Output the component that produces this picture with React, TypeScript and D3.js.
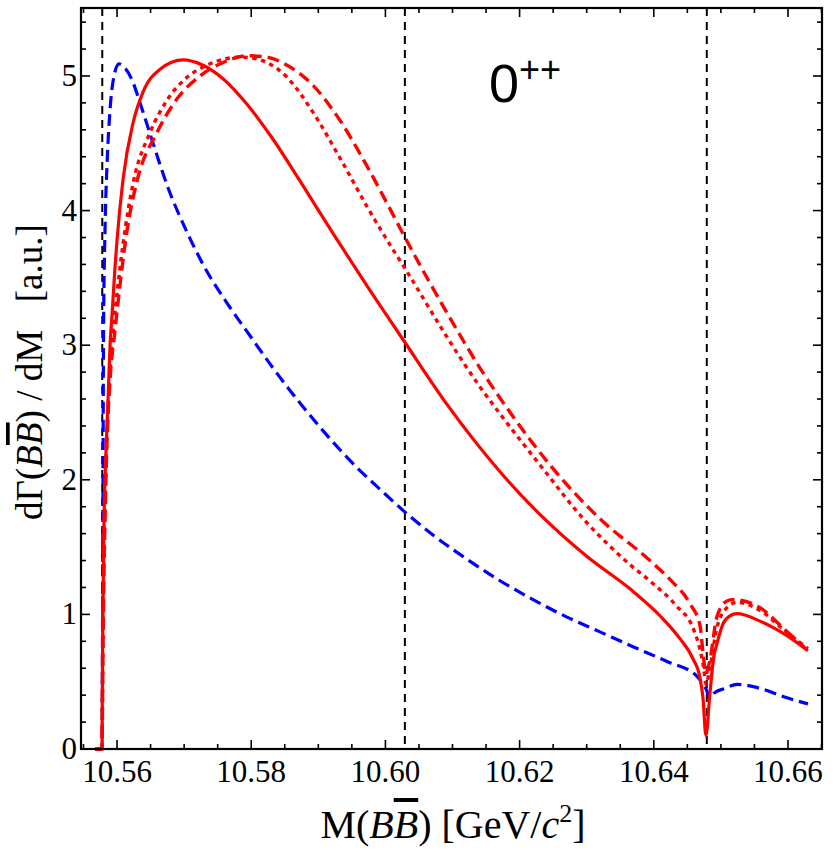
import React from "react";
import * as d3 from "d3";

// B Bbar invariant-mass spectrum for the 0++ channel
const thresholds = [10.5578, 10.6029, 10.6479];

const xTickValues = [10.56, 10.58, 10.6, 10.62, 10.64, 10.66];
const yTickValues = [0, 1, 2, 3, 4, 5];

// [mass GeV, dGamma/dM a.u.]
const blueDashed: [number, number][] = [
  [10.55672, 0], [10.55776, 0], [10.55784, 0.95], [10.55791, 2.0], [10.55799, 3.11],
  [10.55821, 3.86], [10.55851, 4.34], [10.55896, 4.75], [10.55955, 5.0], [10.5603, 5.09],
  [10.56119, 5.06], [10.56224, 4.97], [10.56343, 4.8], [10.56537, 4.5], [10.56745, 4.19],
  [10.57043, 3.84], [10.57282, 3.6], [10.57684, 3.28], [10.57982, 3.07], [10.58325, 2.83],
  [10.58727, 2.57], [10.5913, 2.33], [10.59577, 2.09], [10.59919, 1.93], [10.60292, 1.76],
  [10.60709, 1.59], [10.61216, 1.41], [10.61708, 1.25], [10.622, 1.11], [10.62706, 0.98],
  [10.63198, 0.87], [10.6369, 0.76], [10.64197, 0.65], [10.64644, 0.54], [10.64733, 0.48],
  [10.64793, 0.43], [10.64823, 0.38], [10.64911, 0.42], [10.65061, 0.45], [10.6524, 0.48],
  [10.65583, 0.45], [10.65925, 0.39], [10.66298, 0.335],
];

const redSolid: [number, number][] = [
  [10.55672, 0], [10.55776, 0], [10.55784, 0.73], [10.55791, 1.1], [10.55806, 1.7],
  [10.55836, 2.22], [10.55866, 2.59], [10.55896, 3.0], [10.55925, 3.22], [10.5597, 3.58],
  [10.56, 3.78], [10.56089, 4.23], [10.56238, 4.65], [10.56387, 4.88], [10.56641, 5.05],
  [10.56984, 5.12], [10.57282, 5.08], [10.5758, 4.98], [10.57937, 4.79], [10.58325, 4.53],
  [10.58727, 4.22], [10.59219, 3.83], [10.59726, 3.44], [10.60292, 3.02], [10.60918, 2.56],
  [10.61708, 2.06], [10.62349, 1.72], [10.63004, 1.43], [10.63645, 1.19], [10.64092, 0.99],
  [10.6439, 0.82], [10.64584, 0.67], [10.64688, 0.53], [10.64733, 0.38], [10.64777, 0.1],
  [10.64836, 0.41], [10.64896, 0.69], [10.6494, 0.78], [10.65031, 0.93], [10.65136, 0.99],
  [10.6524, 1.005], [10.65583, 0.95], [10.65925, 0.86], [10.66298, 0.73],
];

const redDotted: [number, number][] = [
  [10.55672, 0], [10.55776, 0], [10.55791, 0.95], [10.55821, 1.85], [10.55851, 2.35],
  [10.55896, 2.82], [10.5594, 3.1], [10.56015, 3.45], [10.56089, 3.75], [10.56238, 4.2],
  [10.56492, 4.58], [10.56745, 4.82], [10.57043, 4.99], [10.57341, 5.08], [10.57639, 5.13],
  [10.57833, 5.14], [10.58057, 5.13], [10.58235, 5.1], [10.58534, 4.99], [10.58921, 4.73],
  [10.59323, 4.39], [10.59726, 4.03], [10.60113, 3.71], [10.60292, 3.57], [10.60918, 3.06],
  [10.6141, 2.69], [10.61708, 2.49], [10.62304, 2.11], [10.63004, 1.68], [10.63645, 1.37],
  [10.63986, 1.23], [10.64344, 1.06], [10.64584, 0.9], [10.64688, 0.74], [10.64747, 0.59],
  [10.64777, 0.48], [10.64836, 0.6], [10.6494, 0.9], [10.65091, 1.05], [10.6524, 1.09],
  [10.65583, 1.03], [10.65925, 0.89], [10.66298, 0.745],
];

const redDashed: [number, number][] = [
  [10.55672, 0], [10.55776, 0], [10.55791, 0.8], [10.55821, 1.7], [10.55851, 2.29],
  [10.55896, 2.74], [10.5597, 3.11], [10.56045, 3.45], [10.56149, 3.85], [10.56298, 4.22],
  [10.56596, 4.58], [10.56894, 4.83], [10.57237, 5.0], [10.5758, 5.1], [10.57937, 5.15],
  [10.58235, 5.14], [10.58534, 5.08], [10.58921, 4.93], [10.59323, 4.67], [10.59726, 4.33],
  [10.60113, 3.97], [10.60292, 3.8], [10.60918, 3.24], [10.6141, 2.83], [10.61902, 2.47],
  [10.62453, 2.11], [10.63198, 1.71], [10.63943, 1.4], [10.64241, 1.26], [10.64539, 1.08],
  [10.64688, 0.92], [10.64733, 0.72], [10.64777, 0.56], [10.64836, 0.66], [10.6494, 0.98],
  [10.65091, 1.1], [10.6518, 1.11], [10.65583, 1.05], [10.65925, 0.9], [10.66298, 0.73],
];

const W = 834;
const H = 853;
const frame = { left: 81, right: 822, top: 8, bottom: 749 };

const x = d3.scaleLinear().domain([10.55463, 10.66507]).range([frame.left, frame.right]);
const y = d3.scaleLinear().domain([0, 5.505]).range([frame.bottom, frame.top]);

const line = d3
  .line<[number, number]>()
  .x((d) => x(d[0]))
  .y((d) => y(d[1]))
  .curve(d3.curveMonotoneX);

const xMinor = d3.range(10.555, 10.6651, 0.005).filter((v) => v > x.domain()[0] && v < x.domain()[1]);
const yMinor = d3.range(0, 5.5, 0.2);

const serif = "'Liberation Serif', 'Times New Roman', serif";

const App = () => {
  const major = 9;
  const minor = 5;
  return (
    <svg width={W} height={H} style={{ position: "absolute", left: 0, top: 0, background: "#fff" }}>
      {/* threshold markers */}
      {thresholds.map((t) => (
        <line key={t} x1={x(t)} x2={x(t)} y1={frame.top} y2={frame.bottom}
          stroke="#000" strokeWidth={2} strokeDasharray="8,6" />
      ))}

      <path d={line(blueDashed) ?? ""} fill="none" stroke="#0000ff" strokeWidth={3.2} strokeDasharray="12,6" />
      <path d={line(redDashed) ?? ""} fill="none" stroke="#ff0000" strokeWidth={3.4} strokeDasharray="12,6" />
      <path d={line(redDotted) ?? ""} fill="none" stroke="#ff0000" strokeWidth={3.4} strokeDasharray="4.5,4.5" />
      <path d={line(redSolid) ?? ""} fill="none" stroke="#ff0000" strokeWidth={3.2} />

      {/* frame and ticks */}
      <rect x={frame.left} y={frame.top} width={frame.right - frame.left} height={frame.bottom - frame.top}
        fill="none" stroke="#000" strokeWidth={2.2} />
      <g stroke="#000" strokeWidth={1.6}>
        {xMinor.map((v) => {
          const len = xTickValues.some((t) => Math.abs(t - v) < 1e-6) ? major : minor;
          return (
            <g key={"x" + v}>
              <line x1={x(v)} x2={x(v)} y1={frame.bottom} y2={frame.bottom - len} />
              <line x1={x(v)} x2={x(v)} y1={frame.top} y2={frame.top + len} />
            </g>
          );
        })}
        {yMinor.map((v) => {
          const len = yTickValues.some((t) => Math.abs(t - v) < 1e-6) ? major : minor;
          return (
            <g key={"y" + v}>
              <line x1={frame.left} x2={frame.left + len} y1={y(v)} y2={y(v)} />
              <line x1={frame.right} x2={frame.right - len} y1={y(v)} y2={y(v)} />
            </g>
          );
        })}
      </g>

      <g fontFamily={serif} fontSize={31} fill="#000">
        {xTickValues.map((v) => (
          <text key={v} x={x(v)} y={782} textAnchor="middle">{v.toFixed(2)}</text>
        ))}
        {yTickValues.map((v) => (
          <text key={v} x={77} y={y(v) + 10} textAnchor="end">{v}</text>
        ))}
      </g>

      {/* axis titles */}
      <text x={453} y={838} textAnchor="middle" fontFamily={serif} fontSize={40}>
        M(<tspan fontStyle="italic">B</tspan>
        <tspan fontStyle="italic" textDecoration="overline">B</tspan>) [GeV/<tspan fontStyle="italic">c</tspan>
        <tspan fontSize={26} dy={-16}>2</tspan>
        <tspan dy={16}>]</tspan>
      </text>
      <text transform="translate(42,372) rotate(-90)" textAnchor="middle" fontFamily={serif} fontSize={37}>
        dΓ(<tspan fontStyle="italic">B</tspan>
        <tspan fontStyle="italic" textDecoration="overline">B</tspan>) / dM{"\u00a0\u00a0\u00a0"}[a.u.]
      </text>

      <text x={489} y={102} fontFamily="'Liberation Sans', Arial, sans-serif" fontSize={54}>
        0<tspan fontSize={36} dy={-20}>++</tspan>
      </text>
    </svg>
  );
};

export default App;
